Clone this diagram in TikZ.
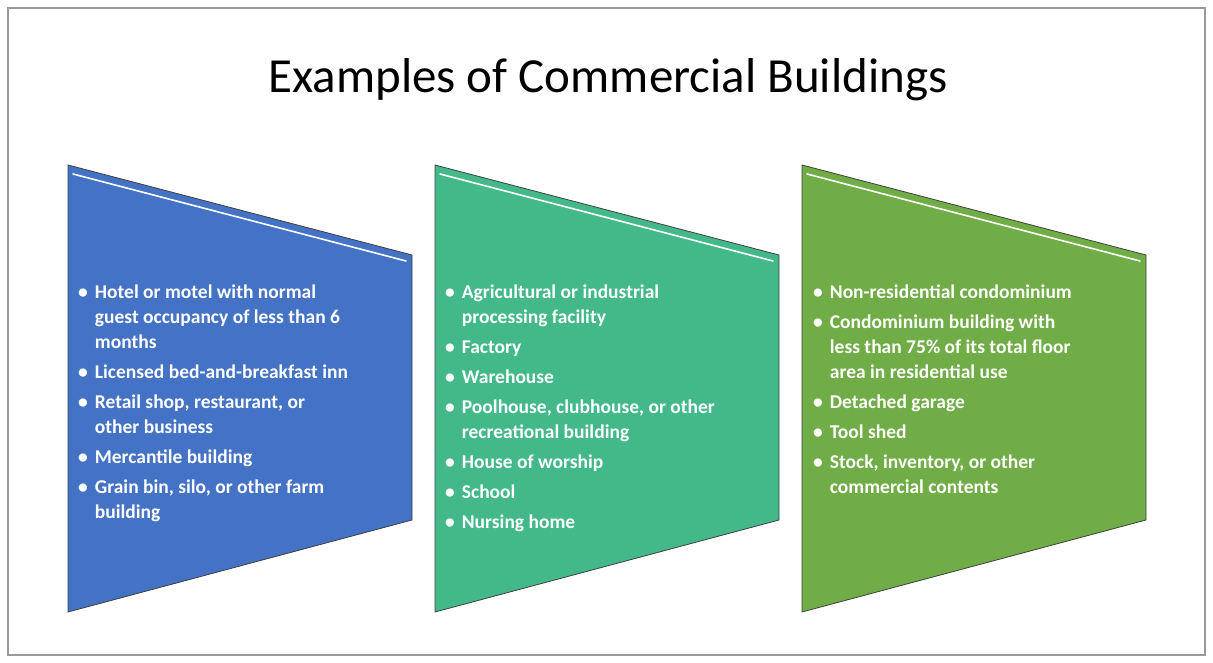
\documentclass[tikz,border=0pt]{standalone}
\usepackage{fontspec}
\setmainfont{Carlito}
\definecolor{cblue}{HTML}{4472C4}
\definecolor{cteal}{HTML}{43B98A}
\definecolor{cgreen}{HTML}{70AD47}
\newcommand{\bi}{\textbullet}
\begin{document}
\begin{tikzpicture}[x=1pt,y=-1pt,
  panel/.style={draw=black!75,line width=0.8pt},
  hl/.style={draw=white,line width=1.6pt,line cap=round},
  ptext/.style={anchor=north west,inner sep=0pt,text=white,font=\fontsize{19.5}{25}\selectfont\bfseries,align=left}]
\useasboundingbox (0,0) rectangle (1213,663);
\draw[draw=gray!80,line width=1.5pt] (8,8) rectangle (1205,655);
\node (title) at (608,80) {\fontsize{49}{58}\selectfont Examples of Commercial Buildings};
\foreach \x/\c in {68/cblue,435/cteal,802/cgreen}{
  \fill[\c,panel] (\x,165) -- (\x+344,255) -- (\x+344,520) -- (\x,612) -- cycle;
  \draw[hl] (\x+5,174) -- (\x+338,261);
}
\newcommand{\rows}[1]{\begin{tabular}{@{}l@{\hspace{7pt}}l@{}}#1\end{tabular}}
\node[ptext] (t1) at (78,281) {\rows{
\bi & Hotel or motel with normal\\ & guest occupancy of less than 6\\ & months\\[5pt]
\bi & Licensed bed-and-breakfast inn\\[5pt]
\bi & Retail shop, restaurant, or\\ & other business\\[5pt]
\bi & Mercantile building\\[5pt]
\bi & Grain bin, silo, or other farm\\ & building}};
\node[ptext] (t2) at (445,281) {\rows{
\bi & Agricultural or industrial\\ & processing facility\\[5pt]
\bi & Factory\\[5pt]
\bi & Warehouse\\[5pt]
\bi & Poolhouse, clubhouse, or other\\ & recreational building\\[5pt]
\bi & House of worship\\[5pt]
\bi & School\\[5pt]
\bi & Nursing home}};
\node[ptext] (t3) at (813,281) {\rows{
\bi & Non-residential condominium\\[5pt]
\bi & Condominium building with\\ & less than 75\% of its total floor\\ & area in residential use\\[5pt]
\bi & Detached garage\\[5pt]
\bi & Tool shed\\[5pt]
\bi & Stock, inventory, or other\\ & commercial contents}};
\end{tikzpicture}
\end{document}
